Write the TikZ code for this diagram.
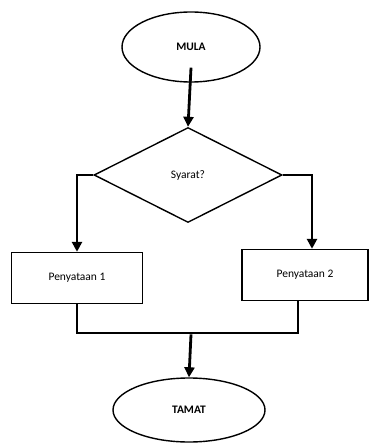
\documentclass[tikz,border=0pt]{standalone}
\usepackage{fontspec}
\setmainfont{Carlito}
\usetikzlibrary{shapes.geometric,arrows.meta,positioning}

\tikzset{
  terminal/.style={ellipse,draw,line width=1.4pt,inner sep=0pt,font=\fontsize{11.5}{13}\selectfont\bfseries},
  decision/.style={diamond,draw,line width=1.4pt,inner sep=0pt,minimum width=188pt,minimum height=95pt},
  process/.style={rectangle,draw,line width=1.4pt,inner sep=0pt,minimum height=51pt},
  flow/.style={line width=2.8pt,-{Triangle[width=10pt,length=10pt]}},
  link/.style={line width=2.8pt}
}

\begin{document}
\begin{tikzpicture}[x=1pt,y=-1pt,font=\fontsize{11.5}{13}\selectfont]
  \useasboundingbox (0,0) rectangle (370,443);
  \node[terminal,minimum width=138pt,minimum height=70pt] (mula) at (191,47) {MULA};
  \node[decision] (syarat) at (188,175) {Syarat?};
  \node[process,minimum width=131pt] (p1) at (77,278) {Penyataan 1};
  \node[process,minimum width=126pt] (p2) at (305,275) {Penyataan 2};
  \node[terminal,minimum width=152pt,minimum height=64pt] (tamat) at (189,410) {TAMAT};
  \coordinate (join) at (191,333);

  \draw[flow] ([yshift=15pt]mula.south) -- (syarat.north);
  \draw[flow] (syarat.west) -| (p1.north);
  \draw[flow] (syarat.east) -| ([xshift=7pt]p2.north);
  \draw[link] (p1.south) |- (join);
  \draw[link] ([xshift=-7pt]p2.south) |- (join);
  \draw[flow] ([yshift=-1.4pt]join) -- (tamat.north);
\end{tikzpicture}
\end{document}
